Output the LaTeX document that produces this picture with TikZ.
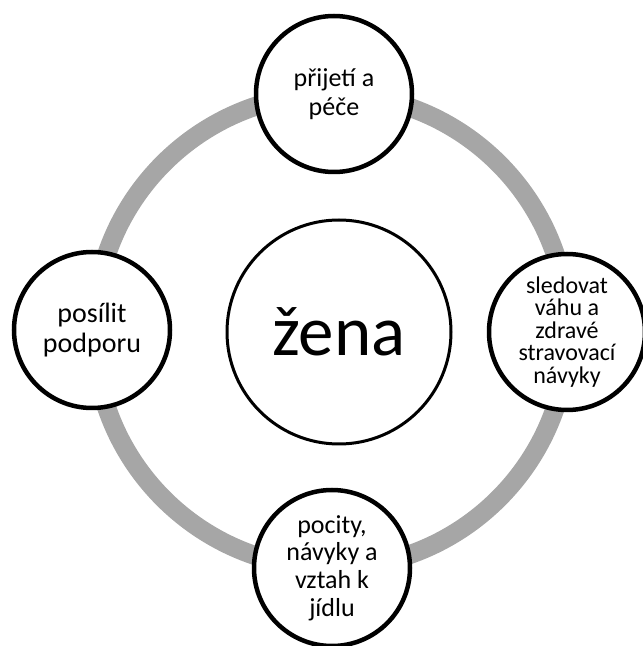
\documentclass[tikz,border=0pt]{standalone}
\usepackage{fontspec}
\setmainfont{Carlito}
\definecolor{ringgray}{RGB}{166,166,166}
\tikzset{
  sat/.style={circle, draw=black, line width=4.5pt, fill=white, minimum size=156pt, inner sep=0pt, align=center},
  hub/.style={circle, draw=black, line width=3pt, fill=white, minimum size=224pt, inner sep=0pt, align=center},
  ring/.style={draw=ringgray, line width=19pt}
}
\begin{document}
\begin{tikzpicture}[x=1pt,y=1pt]
\useasboundingbox (0,0) rectangle (643,646);
\coordinate (rc) at (331,315);
\draw[ring] (rc) circle (237);
\node[hub, font=\fontsize{71}{73}\selectfont] (zena) at (339,314) {žena};
\node[sat, font=\fontsize{26}{28.5}\selectfont] (top) at (334,552) {přijetí a\\péče};
\node[sat, font=\fontsize{24}{22.5}\selectfont] (right) at (567,314) {sledovat\\váhu a\\zdravé\\stravovací\\návyky};
\node[sat, font=\fontsize{26}{27.7}\selectfont] (bottom) at (332,78) {pocity,\\návyky a\\vztah k\\jídlu};
\node[sat, font=\fontsize{28}{30}\selectfont] (left) at (92,316) {posílit\\podporu};
\end{tikzpicture}
\end{document}
